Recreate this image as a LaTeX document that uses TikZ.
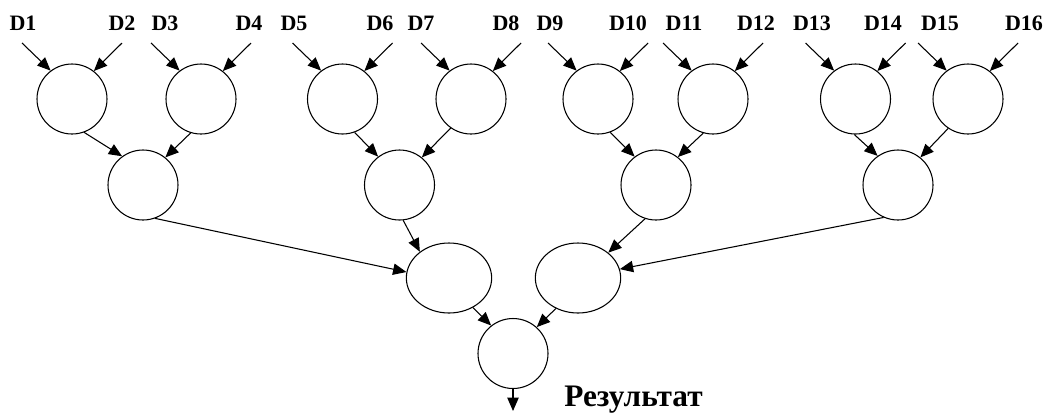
\documentclass[tikz,border=0pt]{standalone}
\usepackage{fontspec}
\setmainfont{Liberation Serif}
\usetikzlibrary{arrows.meta,shapes.geometric}
\begin{document}
\begin{tikzpicture}[x=0.75pt,y=-0.75pt,
  cnode/.style={circle,draw,line width=0.8pt,minimum size=52.5pt,inner sep=0pt},
  enode/.style={ellipse,draw,line width=0.8pt,minimum width=64pt,minimum height=52.5pt,inner sep=0pt},
  arr/.style={line width=0.8pt,-{Triangle[length=10pt,width=8.5pt]}},
  lab/.style={font=\bfseries\fontsize{16.5}{19}\selectfont,anchor=base,inner sep=0pt}]
\useasboundingbox (0,0) rectangle (1052,412);
% level 1
\node[cnode] (a1) at (72,99) {};
\node[cnode] (a2) at (201,99) {};
\node[cnode] (a3) at (342.5,99) {};
\node[cnode] (a4) at (471,99) {};
\node[cnode] (a5) at (598,99) {};
\node[cnode] (a6) at (713,99) {};
\node[cnode] (a7) at (855.5,99) {};
\node[cnode] (a8) at (968,99) {};
% level 2
\node[cnode] (b1) at (143,185) {};
\node[cnode] (b2) at (399.5,185) {};
\node[cnode] (b3) at (656,185) {};
\node[cnode] (b4) at (898,185) {};
% level 3
\node[enode] (c1) at (449,278) {};
\node[enode] (c2) at (578,278) {};
% level 4
\node[cnode] (d) at (513,353.5) {};
\coordinate (out) at (513,411);
% labels
\foreach \t/\x in {D1/23,D2/122,D3/165,D4/249,D5/294,D6/380,D7/421,D8/506,D9/550,D10/628,D11/684,D12/756,D13/812,D14/883,D15/940,D16/1024}
  \node[lab] (l\t) at (\x,30) {\t};
\node[font=\bfseries\fontsize{23.5}{27}\selectfont,anchor=base west,inner sep=0pt] (res) at (564,406) {Результат};
% input arrows
\foreach \n/\cx in {1/72,2/201,3/342.5,4/471,5/598,6/713,7/855.5,8/968}{
  \coordinate (sl\n) at (\cx-50,43);
  \coordinate (sr\n) at (\cx+50,43);
  \draw[arr] (sl\n) -- (a\n.127);
  \draw[arr] (sr\n) -- (a\n.52);
}
% level 1 -> 2
\draw[arr] (a1.290) -- (b1.126);
\draw[arr] (a2.253) -- (b1.51);
\draw[arr] (a3.290) -- (b2.127);
\draw[arr] (a4.235) -- (b2.51);
\draw[arr] (a5.290) -- (b3.127);
\draw[arr] (a6.254) -- (b3.52);
\draw[arr] (a7.268) -- (b4.125);
\draw[arr] (a8.236) -- (b4.51);
% level 2 -> 3
\draw[arr] (b1.290) -- (c1.172);
\draw[arr] (b2.276) -- (c1.138);
\draw[arr] (b3.252) -- (c2.40);
\draw[arr] (b4.246) -- (c2.12);
% level 3 -> 4
\draw[arr] (c1.309) -- (d.128);
\draw[arr] (c2.234) -- (d.48);
% output
\draw[arr] (d.south) -- (out);
\end{tikzpicture}
\end{document}
